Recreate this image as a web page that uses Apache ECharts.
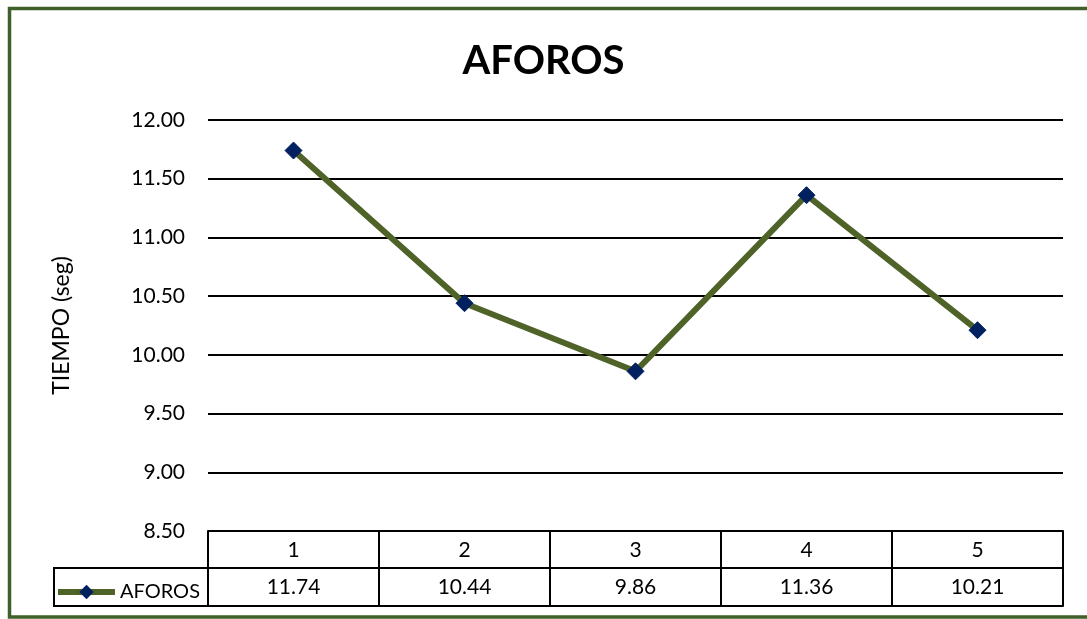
<!DOCTYPE html>
<html>
<head>
<meta charset="utf-8">
<script src="https://cdn.jsdelivr.net/npm/echarts@6/dist/echarts.min.js"></script>
<style>
  html, body { margin: 0; padding: 0; background: #fff; }
  #chart { width: 1087px; height: 619px; }
</style>
</head>
<body>
<div id="chart"></div>
<script>
  // data
  var categories = ['1', '2', '3', '4', '5']
  var aforos = [11.74, 10.44, 9.86, 11.36, 10.21]
  var yTicks = { min: 8.5, max: 12, step: 0.5 }

  var FONT = 'Lato, "Noto Sans", sans-serif'
  var lineColor = '#4F6228'
  var markColor = '#002060'
  var frameColor = '#3F6129'

  var chart = echarts.init(document.getElementById('chart'))

  chart.setOption({
    animation: false,
    textStyle: { fontFamily: FONT, color: '#000' },
    title: {
      text: 'AFOROS',
      left: 'center',
      top: 36,
      textStyle: { fontFamily: FONT, fontSize: 40, fontWeight: 'bold', color: '#000' }
    },
    legend: {
      left: 50,
      top: 577,
      itemWidth: 57,
      itemHeight: 18,
      itemGap: 0,
      lineStyle: { width: 6 },
      textStyle: { fontFamily: FONT, fontSize: 20, color: '#000' },
      data: ['AFOROS']
    },
    grid: { left: 208, right: 24, top: 120, bottom: 88 },
    xAxis: [
      {
        type: 'category',
        data: categories,
        position: 'bottom',
        axisLine: { lineStyle: { color: '#000', width: 2 } },
        axisTick: { show: true, length: 75, lineStyle: { color: '#000', width: 2 } },
        axisLabel: { margin: 9, fontSize: 21, color: '#000', fontFamily: FONT },
        splitLine: { show: false }
      },
      {
        type: 'category',
        data: aforos.map(function (v) { return v.toFixed(2) }),
        position: 'bottom',
        offset: 37,
        axisLine: { lineStyle: { color: '#000', width: 2 } },
        axisTick: { show: false },
        axisLabel: { margin: 9, fontSize: 21, color: '#000', fontFamily: FONT }
      },
      {
        type: 'category',
        data: categories,
        position: 'bottom',
        offset: 75,
        axisLine: { lineStyle: { color: '#000', width: 2 } },
        axisTick: { show: false },
        axisLabel: { show: false }
      }
    ],
    yAxis: {
      type: 'value',
      min: yTicks.min,
      max: yTicks.max,
      interval: yTicks.step,
      name: 'TIEMPO (seg)',
      nameLocation: 'middle',
      nameGap: 135,
      nameTextStyle: { fontFamily: FONT, fontSize: 23, color: '#000' },
      axisLine: { show: false },
      axisTick: { show: false },
      axisLabel: {
        margin: 23,
        fontSize: 21,
        color: '#000',
        fontFamily: FONT,
        formatter: function (v) { return v.toFixed(2) }
      },
      splitLine: { lineStyle: { color: '#000', width: 2 } }
    },
    graphic: [
      {
        // legend cell of the data table
        type: 'rect',
        shape: { x: 54, y: 568, width: 154, height: 38 },
        style: { fill: 'none', stroke: '#000', lineWidth: 2 },
        z: 10
      },
      {
        // chart frame
        type: 'rect',
        shape: { x: 9.5, y: 8.5, width: 1090, height: 608.5 },
        style: { fill: 'none', stroke: frameColor, lineWidth: 3.5 },
        z: 10
      }
    ],
    series: [
      {
        name: 'AFOROS',
        type: 'line',
        xAxisIndex: 0,
        data: aforos,
        symbol: 'diamond',
        symbolSize: 17,
        lineStyle: { color: lineColor, width: 6 },
        itemStyle: { color: markColor, borderColor: markColor }
      }
    ]
  })
</script>
</body>
</html>
